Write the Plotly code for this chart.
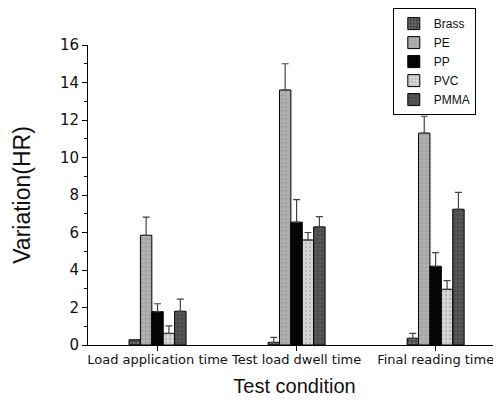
import plotly.graph_objects as go

categories = ["Load application time", "Test load dwell time", "Final reading time"]
series_names = ["Brass", "PE", "PP", "PVC", "PMMA"]

brass = [0.28, 0.14, 0.36]
pe = [5.85, 13.6, 11.3]
pp = [1.78, 6.55, 4.2]
pvc = [0.62, 5.6, 2.97]
pmma = [1.8, 6.3, 7.24]

brass_err = [None, 0.27, 0.26]
pe_err = [0.97, 1.4, 0.9]
pp_err = [0.42, 1.2, 0.73]
pvc_err = [0.4, 0.4, 0.46]
pmma_err = [0.65, 0.55, 0.9]

values = [brass, pe, pp, pvc, pmma]
errors = [brass_err, pe_err, pp_err, pvc_err, pmma_err]

styles = [
    dict(bg="#4a4a4a", fg="#9a9a9a", shape=".", size=4, sol=0.35),
    dict(bg="#b4b4b4", fg="#6e6e6e", shape="+", size=4, sol=0.25),
    dict(bg="#050505", fg="#050505", shape="", size=4, sol=0.3),
    dict(bg="#d6d6d6", fg="#9c9c9c", shape=".", size=4, sol=0.3),
    dict(bg="#5a5a5a", fg="#1e1e1e", shape="+", size=4, sol=0.3),
]

fig = go.Figure()
for name, vals, err, st in zip(series_names, values, errors, styles):
    fig.add_trace(go.Bar(
        name=name, x=categories, y=vals,
        marker=dict(
            color=st["bg"],
            line=dict(color="#000000", width=1),
            pattern=dict(shape=st["shape"], fgcolor=st["fg"], bgcolor=st["bg"],
                         size=st["size"], solidity=st["sol"], fillmode="overlay"),
        ),
        error_y=dict(type="data", symmetric=False, array=err,
                     arrayminus=[0, 0, 0], color="#444444", thickness=1.2, width=3.5),
    ))

fig.update_layout(
    width=493, height=394,
    margin=dict(l=80, r=0, t=37, b=57, autoexpand=False),
    paper_bgcolor="white", plot_bgcolor="white",
    barmode="group", bargap=0.59, bargroupgap=0,
    font=dict(family="Liberation Sans, Arial, sans-serif", color="#111111"),
    showlegend=True,
    legend=dict(
        x=0.738, y=1.123, xanchor="left", yanchor="top",
        bordercolor="#000000", borderwidth=1, bgcolor="white",
        font=dict(size=12, family="Liberation Sans, Arial, sans-serif"),
        tracegroupgap=0, itemwidth=30, entrywidth=68,
    ),
    xaxis=dict(
        range=[-0.5, 2.47], showline=True, linecolor="#000000", linewidth=1,
        ticks="outside", ticklen=5, tickcolor="#000000", showgrid=False,
        tickangle=0, automargin=False, ticklabelstandoff=-3,
        tickfont=dict(family="DejaVu Sans, sans-serif", size=13, color="#111111"),
        title=dict(text="Test condition", font=dict(size=20), standoff=13),
    ),
    yaxis=dict(
        range=[0, 16], dtick=2, showline=True, linecolor="#000000", linewidth=1,
        ticks="outside", ticklen=5, tickcolor="#000000", showgrid=False,
        zeroline=False, automargin=False,
        tickfont=dict(family="DejaVu Sans, sans-serif", size=15, color="#111111"),
        minor=dict(dtick=1, ticks="outside", ticklen=3, tickcolor="#000000"),
        title=dict(text="Variation(HR)", font=dict(size=23), standoff=22),
    ),
)

fig.write_html("out.html")
